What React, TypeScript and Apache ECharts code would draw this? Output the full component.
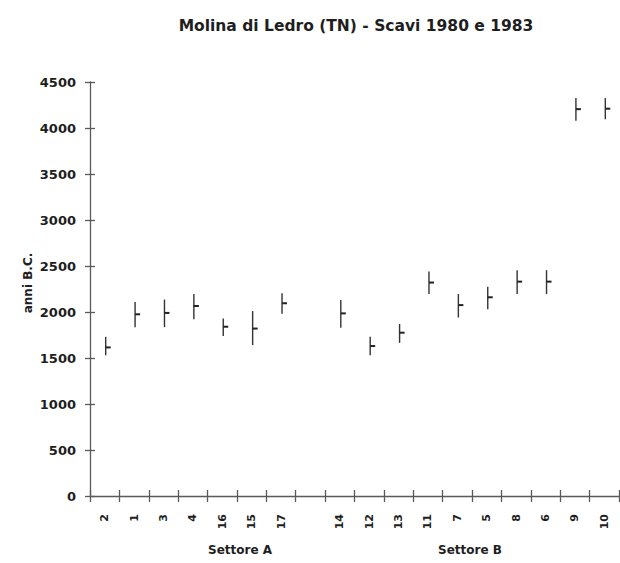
import React, { useEffect, useRef } from "react";
import * as echarts from "echarts";

const titleText = "Molina di Ledro (TN) - Scavi 1980 e 1983";
const yAxisTitle = "anni B.C.";
const groupLabels = ["Settore A", "Settore B"];

const samples = ["2", "1", "3", "4", "16", "15", "17", "", "14", "12", "13", "11", "7", "5", "8", "6", "9", "10"];
const lows: (number | null)[] = [1530, 1835, 1835, 1920, 1740, 1640, 1980, null, 1830, 1530, 1665, 2195, 1940, 2030, 2195, 2195, 4080, 4095];
const means: (number | null)[] = [1615, 1975, 1990, 2065, 1840, 1820, 2095, null, 1985, 1630, 1775, 2320, 2075, 2160, 2330, 2330, 4205, 4210];
const highs: (number | null)[] = [1730, 2110, 2135, 2195, 1930, 2010, 2205, null, 2130, 1730, 1870, 2440, 2195, 2275, 2455, 2455, 4325, 4325];

const yMin = 0;
const yMax = 4500;
const yStep = 500;

const FONT = "DejaVu Sans";
const TEXT = "#1e1e1e";
const AXIS = "#5a5a5a";

export default function App() {
  const ref = useRef<HTMLDivElement>(null);
  useEffect(() => {
    if (!ref.current) return;
    const chart = echarts.init(ref.current, null, { renderer: "svg" });
    const data: number[][] = [];
    samples.forEach((_, i) => {
      if (lows[i] != null && means[i] != null && highs[i] != null) {
        data.push([i, lows[i] as number, means[i] as number, highs[i] as number]);
      }
    });
    const axisLineStyle = { color: AXIS, width: 1.3 };
    chart.setOption({
      animation: false,
      backgroundColor: "#ffffff",
      grid: { left: 90, right: 1, top: 82, bottom: 67, containLabel: false },
      xAxis: [
        {
          type: "category",
          data: samples,
          position: "bottom",
          boundaryGap: true,
          axisLine: { onZero: false, lineStyle: axisLineStyle },
          axisTick: { show: true, inside: false, length: 6, lineStyle: axisLineStyle, interval: 0 },
          axisLabel: {
            interval: 0,
            rotate: 90,
            margin: 18,
            color: TEXT,
            fontFamily: FONT,
            fontWeight: "bold",
            fontSize: 11,
          },
          splitLine: { show: false },
        },
        {
          type: "category",
          data: samples,
          position: "bottom",
          offset: 0,
          boundaryGap: true,
          axisLine: { show: false, onZero: false },
          axisTick: { show: true, inside: true, length: 6, lineStyle: axisLineStyle, interval: 0 },
          axisLabel: { show: false },
          splitLine: { show: false },
        },
      ],
      yAxis: [
        {
          type: "value",
          min: yMin,
          max: yMax,
          interval: yStep,
          position: "left",
          axisLine: { show: true, lineStyle: axisLineStyle },
          axisTick: { show: true, inside: false, length: 5, lineStyle: axisLineStyle },
          axisLabel: {
            margin: 14,
            color: TEXT,
            fontFamily: FONT,
            fontWeight: "bold",
            fontSize: 13,
            formatter: (v: number) => String(v),
          },
          splitLine: { show: false },
        },
        {
          type: "value",
          min: yMin,
          max: yMax,
          interval: yStep,
          position: "left",
          offset: 0,
          axisLine: { show: false },
          axisTick: { show: true, inside: true, length: 5, lineStyle: axisLineStyle },
          axisLabel: { show: false },
          splitLine: { show: false },
        },
      ],
      series: [
        {
          type: "custom",
          xAxisIndex: 0,
          yAxisIndex: 0,
          encode: { x: 0, y: [1, 2, 3] },
          data,
          renderItem: (params: any, api: any) => {
            const idx = api.value(0);
            const lo = api.coord([idx, api.value(1)]);
            const mid = api.coord([idx, api.value(2)]);
            const hi = api.coord([idx, api.value(3)]);
            const cx = lo[0] + 1;
            return {
              type: "group",
              children: [
                {
                  type: "line",
                  shape: { x1: cx, y1: lo[1], x2: cx, y2: hi[1] },
                  style: { stroke: "#333333", lineWidth: 1.4 },
                },
                {
                  type: "line",
                  shape: { x1: cx, y1: mid[1], x2: cx + 5, y2: mid[1] },
                  style: { stroke: "#222222", lineWidth: 2 },
                },
              ],
            };
          },
        },
      ],
      graphic: [
        {
          type: "text",
          x: 356,
          y: 26,
          style: {
            text: titleText,
            fill: TEXT,
            font: `bold 15.5px "${FONT}"`,
            textAlign: "center",
            textVerticalAlign: "middle",
          },
        },
        {
          type: "text",
          x: 28,
          y: 283,
          rotation: Math.PI / 2,
          style: {
            text: yAxisTitle,
            fill: TEXT,
            font: `bold 12px "${FONT}"`,
            textAlign: "center",
            textVerticalAlign: "middle",
          },
        },
        {
          type: "text",
          x: 240,
          y: 550,
          style: {
            text: groupLabels[0],
            fill: TEXT,
            font: `bold 12px "${FONT}"`,
            textAlign: "center",
            textVerticalAlign: "middle",
          },
        },
        {
          type: "text",
          x: 470,
          y: 550,
          style: {
            text: groupLabels[1],
            fill: TEXT,
            font: `bold 12px "${FONT}"`,
            textAlign: "center",
            textVerticalAlign: "middle",
          },
        },
      ],
    });
    return () => chart.dispose();
  }, []);
  return (
    <div
      ref={ref}
      style={{ position: "fixed", left: 0, top: 0, width: 620, height: 563, background: "#fff" }}
    />
  );
}
